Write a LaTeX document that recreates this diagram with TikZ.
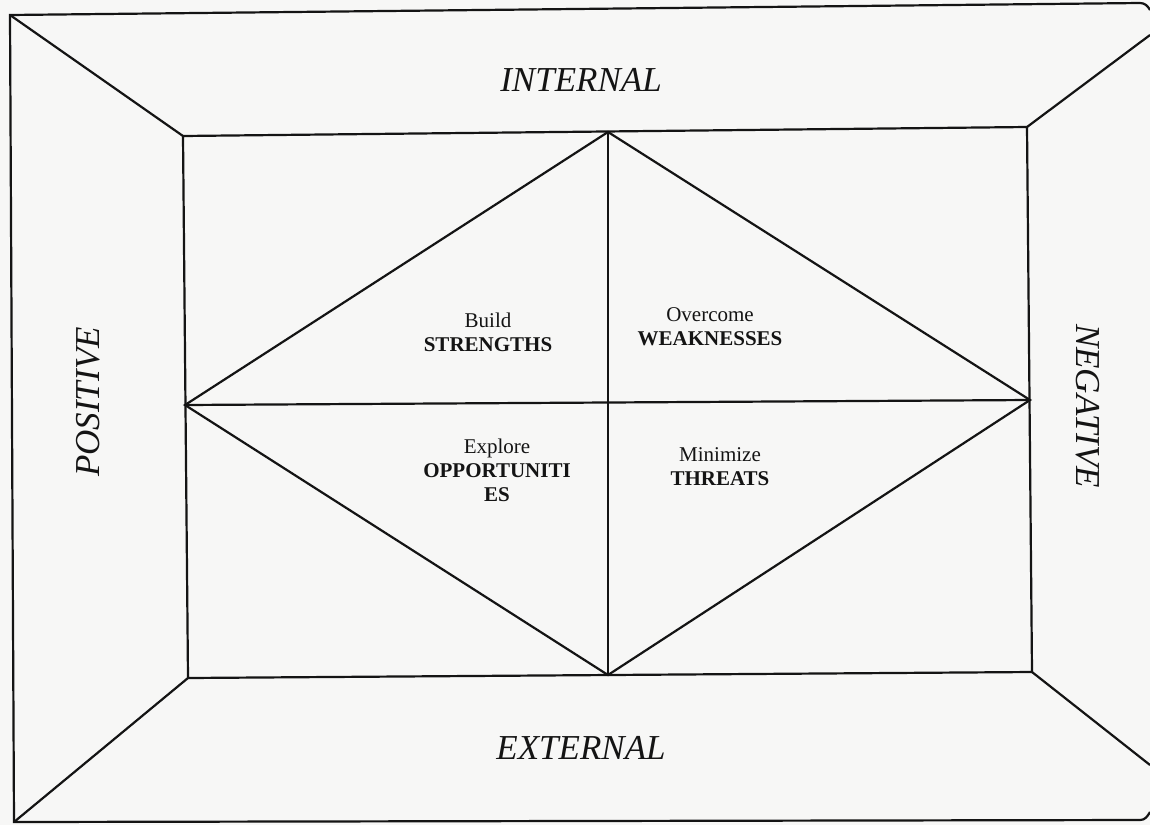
\documentclass[tikz,border=0pt]{standalone}
\usepackage{fontspec}
\setmainfont{Liberation Serif}
\definecolor{paper}{RGB}{247,247,246}
\definecolor{ink}{RGB}{20,20,20}
\begin{document}
\begin{tikzpicture}[x=1pt,y=-1pt,
  frame/.style={line width=2.2pt, draw=ink, line join=miter},
  lbl/.style={font=\fontsize{21}{24}\selectfont, align=center, text=ink, inner sep=0pt},
  side/.style={font=\fontsize{35}{40}\selectfont\itshape, text=ink, inner sep=0pt}]
\fill[paper] (0,0) rectangle (1150,825);
\useasboundingbox (0,0) rectangle (1150,825);
% outer frame
\coordinate (oTL) at (10,15);
\coordinate (oBL) at (14,822);
\coordinate (oTR) at (1140,3);
\coordinate (oBR) at (1140,820);
\coordinate (eTR) at (1150,10);
\coordinate (eBR) at (1150,812);
\coordinate (dTR) at (1150,35);
\coordinate (dBR) at (1150,765);
% inner rectangle
\coordinate (iTL) at (183,136);
\coordinate (iTR) at (1027,127);
\coordinate (iBR) at (1032,672);
\coordinate (iBL) at (188,678);
% diamond
\coordinate (T) at (608,132);
\coordinate (B) at (608,675);
\coordinate (L) at (185,405);
\coordinate (R) at (1030,400);

\draw[frame] (eTR) to[out=120,in=0] (oTR) -- (oTL) -- (oBL) -- (oBR) to[out=0,in=-120] (eBR);
\draw[frame] (oTL) -- (iTL);
\draw[frame] (oBL) -- (iBL);
\draw[frame] (iTR) -- (dTR);
\draw[frame] (iBR) -- (dBR);
\draw[frame] (iTL) -- (iTR) -- (iBR) -- (iBL) -- cycle;
\draw[frame] (L) -- (T) -- (R) -- (B) -- cycle;
\draw[frame] (T) -- (B);
\draw[frame] (L) -- (R);

\node[side] (int) at (581,80) {INTERNAL};
\node[side] (ext) at (581,748) {EXTERNAL};
\node[side, rotate=90] (pos) at (88,402) {POSITIVE};
\node[side, rotate=-90] (neg) at (1088,406) {NEGATIVE};

\node[lbl] (s) at (488,332) {Build\\\textbf{STRENGTHS}};
\node[lbl] (w) at (710,327) {Overcome\\\textbf{WEAKNESSES}};
\node[lbl] (o) at (497,470) {Explore\\\textbf{OPPORTUNITI}\\\textbf{ES}};
\node[lbl] (t) at (720,467) {Minimize\\\textbf{THREATS}};
\end{tikzpicture}
\end{document}
